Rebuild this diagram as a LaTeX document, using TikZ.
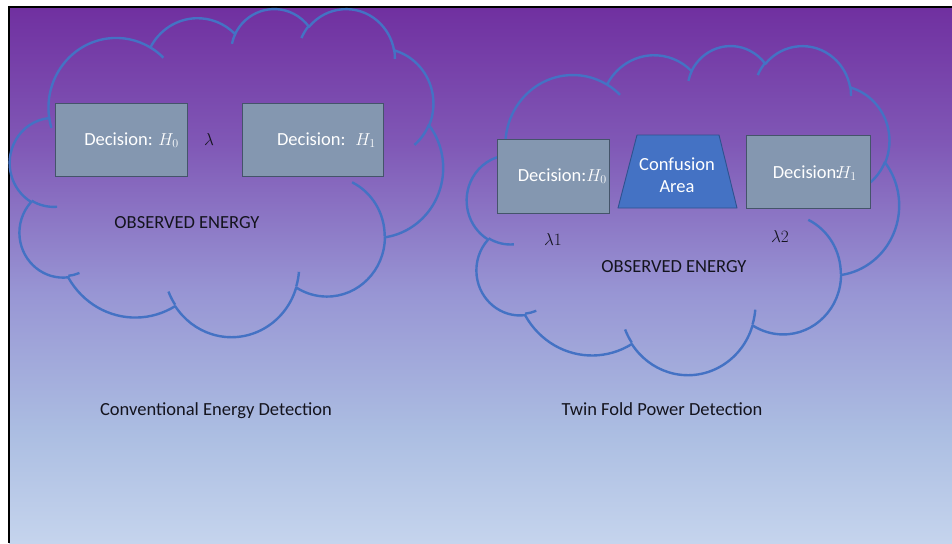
\documentclass[tikz,border=0pt]{standalone}
\usepackage{fontspec}
\setmainfont{Carlito}

\definecolor{cloudblue}{RGB}{68,114,196}
\definecolor{boxfill}{RGB}{132,151,176}
\definecolor{boxedge}{RGB}{68,84,106}
\definecolor{trapfill}{RGB}{68,114,196}
\definecolor{trapedge}{RGB}{47,82,143}
\definecolor{txtdark}{RGB}{20,20,30}

% slide background: purple at the top fading to pale blue
\pgfdeclareverticalshading{slidebg}{100bp}{%
  color(0bp)=(rgb,255:red,197;green,212;blue,237);
  color(25bp)=(rgb,255:red,197;green,212;blue,237);
  color(35.1bp)=(rgb,255:red,172;green,190;blue,226);
  color(48.2bp)=(rgb,255:red,152;green,150;blue,212);
  color(62.2bp)=(rgb,255:red,128;green,88;blue,182);
  color(75bp)=(rgb,255:red,112;green,48;blue,160);
  color(100bp)=(rgb,255:red,112;green,48;blue,160)}

% elliptic arc given by its "visual" start angle and sweep,
% continued from the current point
\newcommand\cldarc[4]{%
  \pgfextra{%
    \pgfmathparse{atan2(#1*sin(#3),#2*cos(#3))}\xdef\cldA{\pgfmathresult}%
    \pgfmathparse{atan2(#1*sin(#3+#4),#2*cos(#3+#4))}\xdef\cldB{\pgfmathresult}%
    \pgfmathparse{\cldB-\cldA}\xdef\cldD{\pgfmathresult}%
    \pgfmathparse{\cldD+360*round((#4-\cldD)/360)}\xdef\cldD{\pgfmathresult}%
  } arc[start angle=\cldA, delta angle=\cldD, x radius=#1, y radius=#2]}

% cloud outline in a 43.2 x 43.2 box, y pointing down
\newcommand\cloudoutline{%
  (3.900,14.370)
  \cldarc{6.753}{9.190}{-190.4875}{123.7805}
  \cldarc{5.333}{7.267}{-144.1024}{89.9452}
  \cldarc{4.365}{5.945}{-145.8079}{99.7230}
  \cldarc{4.857}{6.595}{-130.9861}{117.2417}
  \cldarc{5.333}{7.273}{-78.7089}{109.0269}
  \cldarc{6.775}{9.220}{-46.2673}{130.2690}
  \cldarc{5.785}{7.867}{0.6250}{114.0333}
  \cldarc{6.752}{9.215}{22.4516}{115.1726}
  \cldarc{7.720}{10.543}{66.2426}{75.7110}
  \cldarc{4.360}{5.918}{-274.9421}{146.7356}
  \cldarc{4.345}{5.945}{-246.8285}{152.5189}
  -- cycle}
\newcommand\cloudinner{%
  (4.693,26.177) \cldarc{4.345}{5.945}{86.7420}{26.4295}
  (6.928,34.899) \cldarc{4.360}{5.918}{73.6105}{11.4475}
  (16.478,39.090) \cldarc{6.752}{9.215}{137.6242}{14.0811}
  (28.827,34.751) \cldarc{6.752}{9.215}{6.4533}{15.9984}
  (34.129,22.954) \cldarc{5.785}{7.867}{-70.2924}{70.9174}
  (41.798,15.354) \cldarc{5.333}{7.273}{30.3180}{27.7515}
  (38.324,5.426) \cldarc{4.857}{6.595}{-13.7443}{14.8589}
  (29.078,3.952) \cldarc{4.857}{6.595}{-149.1815}{18.1954}
  (22.141,4.720) \cldarc{4.365}{5.945}{-163.4943}{17.6864}
  (14.000,5.192) \cldarc{6.753}{9.190}{-66.7070}{12.3194}
  (4.127,15.789) \cldarc{6.753}{9.190}{157.6544}{11.8582}}

\tikzset{
  cloudline/.style={draw=cloudblue, line width=2.4pt, line join=round},
  decbox/.style={draw=boxedge, fill=boxfill, line width=0.9pt, inner sep=0pt},
  confbox/.style={draw=trapedge, fill=trapfill, line width=0.9pt, line join=round},
  boxtext/.style={text=white, font=\fontsize{18.5}{22}\selectfont, inner sep=0pt},
  plaintext/.style={text=txtdark, font=\fontsize{18.5}{22}\selectfont, inner sep=0pt},
}

\begin{document}
\begin{tikzpicture}[x=1pt, y=-1pt]
\useasboundingbox (0,0) rectangle (952,543);
\fill[white] (0,0) rectangle (952,543);
\shade[shading=slidebg] (9,7) rectangle (952,543);
\draw[line width=2pt] (8,7) -- (952,7);
\draw[line width=2pt] (9,6) -- (9,543);

% left cloud
\begin{scope}[shift={(10,8)}, xscale=433/43.2, yscale=328/43.2]
  \draw[cloudline] \cloudoutline;
  \draw[cloudline] \cloudinner;
\end{scope}

% right cloud
\begin{scope}[shift={(467,45)}, xscale=432/43.2, yscale=329/43.2]
  \draw[cloudline] \cloudoutline;
  \draw[cloudline] \cloudinner;
\end{scope}

% conventional detector
\node[decbox, minimum width=132pt, minimum height=73pt] (h0a) at (121,139.5) {};
\node[decbox, minimum width=141pt, minimum height=73pt] (h1a) at (312.5,139.5) {};
\node[boxtext, anchor=east] (t0a) at (179,140) {Decision: $H_0$};
\node[boxtext, anchor=east] (t1a) at (376,140) {Decision: \ $H_1$};
\node[plaintext] (lam) at (209,139) {$\lambda$};
\node[plaintext] (obsa) at (187,223) {OBSERVED ENERGY};

% twin fold detector
\node[decbox, minimum width=112pt, minimum height=74pt] (h0b) at (553,176) {};
\coordinate (cbl) at (618,208);
\coordinate (cbr) at (737,208);
\coordinate (ctr) at (719,135);
\coordinate (ctl) at (637,135);
\draw[confbox] (cbl) -- (cbr) -- (ctr) -- (ctl) -- cycle;
\node[decbox, minimum width=124pt, minimum height=73pt] (h1b) at (808,171.5) {};
\node[boxtext, anchor=east] (t0b) at (607,176) {Decision:$H_0$};
\node[boxtext, align=center] (tconf) at (677,175) {Confusion\\Area};
\node[boxtext, anchor=east] (t1b) at (857,173) {Decision\kern-1pt:\kern-4pt$H_1$};
\node[plaintext] (lam1) at (553,239) {$\lambda 1$};
\node[plaintext] (lam2) at (780,236) {$\lambda 2$};
\node[plaintext] (obsb) at (674,267) {OBSERVED ENERGY};

% captions
\node[plaintext] (capa) at (216,411) {Conventional Energy Detection};
\node[plaintext] (capb) at (662,409) {Twin Fold Power Detection};
\end{tikzpicture}
\end{document}
